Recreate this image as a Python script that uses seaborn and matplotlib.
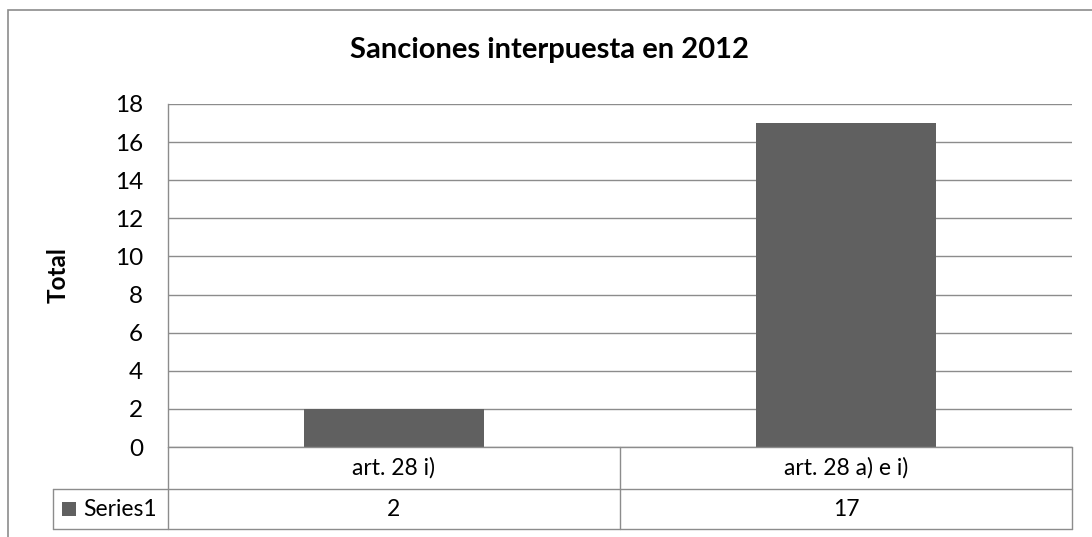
import matplotlib
matplotlib.use("Agg")
import matplotlib.pyplot as plt
import matplotlib.transforms as mtransforms
from matplotlib.patches import Rectangle
import seaborn as sns
import pandas as pd

categories = ["art. 28 i)", "art. 28 a) e i)"]
values = [2, 17]
series_name = "Series1"
title = "Sanciones interpuesta en 2012"
ylabel = "Total"
yticks = [0, 2, 4, 6, 8, 10, 12, 14, 16, 18]

BAR = "#606060"
LINE = "#8c8c8c"
FONT = ["Lato", "DejaVu Sans"]

sns.set_theme(style="white")
plt.rcParams["font.family"] = FONT

W, H = 1092, 537
fig = plt.figure(figsize=(W / 100, H / 100), dpi=100)

def fx(px):
    return px / W

def fy(py):
    return 1 - py / H

left, right, top, bottom = 168, 1072, 104, 447
ax = fig.add_axes([fx(left), fy(bottom), fx(right - left), (bottom - top) / H])

df = pd.DataFrame({"cat": categories, "val": values})
sns.barplot(data=df, x="cat", y="val", color=BAR, width=0.4, saturation=1,
            ax=ax, linewidth=0)
ax.set_xlim(-0.5, len(categories) - 0.5)
ax.set_ylim(0, 18)
ax.set_yticks(yticks)
ax.set_yticklabels([str(t) for t in yticks], fontsize=17.5, color="black")
ax.tick_params(axis="y", length=0, pad=18)
ax.set_xticks([])
ax.set_xlabel("")
ax.set_ylabel("")
ax.yaxis.grid(True, color=LINE, linewidth=1)
ax.set_axisbelow(True)
for s in ["top", "right", "bottom"]:
    ax.spines[s].set_visible(False)
ax.spines["left"].set_color(LINE)
ax.spines["left"].set_linewidth(1)

# Title and axis label
fig.text(fx(550), fy(50), title, ha="center", va="center", fontsize=21,
         fontweight="bold", family=FONT, color="black")
fig.text(fx(58), fy(275), ylabel, ha="center", va="center", fontsize=17.5,
         fontweight="bold", rotation=90, family=FONT, color="black")

# Outer chart border
fig.add_artist(Rectangle((fx(8), fy(H + 20)), fx(W), fy(10) - fy(H + 20),
                         transform=fig.transFigure, fill=False,
                         edgecolor=LINE, linewidth=1.2))

# Data table below the plot
row1, row2, row3 = 447, 489, 529
tleft = 53

def hline(y, x0, x1):
    fig.add_artist(plt.Line2D([fx(x0), fx(x1)], [fy(y), fy(y)],
                              transform=fig.transFigure, color=LINE, lw=1))

def vline(x, y0, y1):
    fig.add_artist(plt.Line2D([fx(x), fx(x)], [fy(y0), fy(y1)],
                              transform=fig.transFigure, color=LINE, lw=1))

hline(row1, left, right)
hline(row2, tleft, right)
hline(row3, tleft, right)
vline(left, row1, row3)
vline(right, row1, row3)
vline(tleft, row2, row3)

blend = mtransforms.blended_transform_factory(ax.transData, fig.transFigure)
for i in range(1, len(categories)):
    fig.add_artist(plt.Line2D([i - 0.5, i - 0.5], [fy(row1), fy(row3)],
                              transform=blend, color=LINE, lw=1))
for i, (c, v) in enumerate(zip(categories, values)):
    fig.text(i, fy((row1 + row2) / 2), c, transform=blend, ha="center",
             va="center", fontsize=16.5, family=FONT, color="black")
    fig.text(i, fy((row2 + row3) / 2), str(v), transform=blend, ha="center",
             va="center", fontsize=16.5, family=FONT, color="black")

fig.add_artist(Rectangle((fx(62), fy(516)), fx(14), fy(502) - fy(516),
                         transform=fig.transFigure, facecolor=BAR,
                         edgecolor="none"))
fig.text(fx(83), fy((row2 + row3) / 2), series_name, ha="left", va="center",
         fontsize=16.5, family=FONT, color="black")

fig.savefig("out.png", dpi=100)
